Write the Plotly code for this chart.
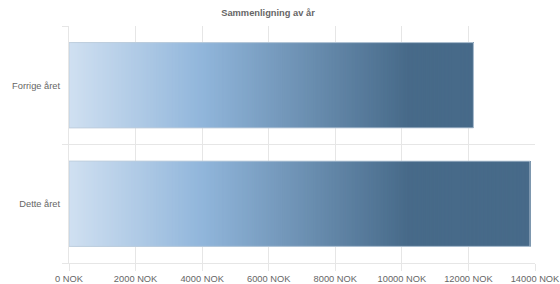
import plotly.graph_objects as go

# ---- data ----
categories = ["Forrige året", "Dette året"]
values = [12150, 13850]
x_ticks = [0, 2000, 4000, 6000, 8000, 10000, 12000, 14000]
title_text = "Sammenligning av år"

# gradient stops (value, rgb) — colour depends on x position
grad_stops = [(0, (208, 224, 241)), (4000, (145, 182, 219)), (10200, (71, 106, 137)), (14000, (71, 106, 137))]


def grad_color(v):
    for (a, ca), (b, cb) in zip(grad_stops[:-1], grad_stops[1:]):
        if a <= v <= b:
            t = (v - a) / (b - a) if b > a else 0
            c = [round(ca[i] + (cb[i] - ca[i]) * t) for i in range(3)]
            return f"rgb({c[0]},{c[1]},{c[2]})"
    c = grad_stops[-1][1]
    return f"rgb({c[0]},{c[1]},{c[2]})"


STEP = 40
ypos = list(range(len(categories)))

fig = go.Figure()
for yi, val in zip(ypos, values):
    starts = list(range(0, int(val), STEP))
    fig.add_trace(go.Bar(
        y=[yi] * len(starts),
        x=[val - s for s in starts],
        base=starts,
        orientation="h",
        width=0.72,
        marker=dict(color=[grad_color(s + STEP / 2) for s in starts], line=dict(width=0)),
        hoverinfo="skip",
        showlegend=False,
    ))

# thin border around each bar
fig.add_trace(go.Bar(
    y=ypos, x=values, orientation="h", width=0.72,
    marker=dict(color="rgba(0,0,0,0)", line=dict(color="rgba(190,205,220,0.9)", width=1)),
    hoverinfo="skip", showlegend=False,
))

grid = "#e6e6e6"
font_fam = "Liberation Sans, Arial, sans-serif"

fig.update_layout(
    width=560, height=284,
    margin=dict(l=69, r=25, t=26, b=21, autoexpand=False),
    paper_bgcolor="white", plot_bgcolor="white",
    barmode="overlay",
    font=dict(family=font_fam, size=9.3, color="#666666"),
    title=dict(text="<b>" + title_text + "</b>", x=268 / 560, xanchor="center",
               y=1 - 13 / 284, yanchor="middle", automargin=False,
               font=dict(family=font_fam, size=9.3, color="#666666")),
    xaxis=dict(
        range=[0, 14000], tickvals=x_ticks,
        ticktext=[f"{v} NOK" for v in x_ticks],
        showgrid=True, gridcolor=grid, gridwidth=1,
        ticks="outside", ticklen=7, tickcolor=grid,
        showline=True, linecolor=grid, linewidth=1,
        zeroline=False, fixedrange=True, automargin=False,
        ticklabeloverflow="allow",
    ),
    yaxis=dict(
        range=[1.5, -0.5], tickvals=ypos, ticktext=categories,
        showgrid=False, ticks="", ticklabelstandoff=6,
        showline=True, linecolor=grid, linewidth=1,
        zeroline=False, automargin=False, fixedrange=True,
        minor=dict(tickvals=[-0.5, 0.5, 1.5], showgrid=True, gridcolor=grid,
                   ticks="outside", ticklen=6, tickcolor=grid),
    ),
)

fig.write_html("out.html", config={"displayModeBar": False},
               post_script="document.body.style.margin='0';")
